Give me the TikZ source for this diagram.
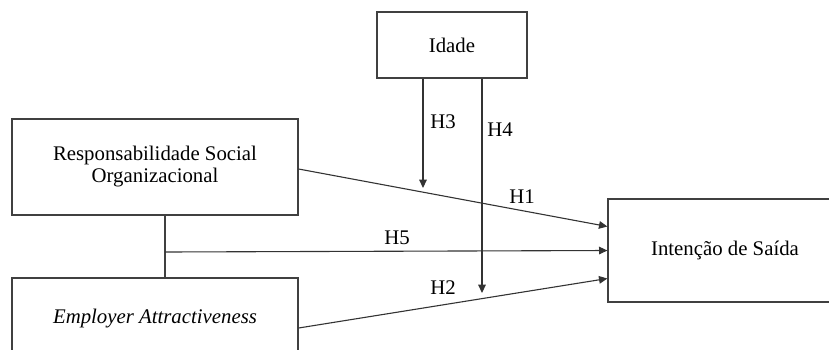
\documentclass[tikz,border=0pt]{standalone}
\usepackage{fontspec}
\setmainfont{Liberation Serif}
\usetikzlibrary{arrows.meta}
\tikzset{
  box/.style={draw=black!75,line width=0.6pt,inner sep=0pt,align=center},
  arr/.style={draw=black!80,line width=0.55pt,-{Triangle[length=4.2pt,width=3.8pt]}},
  lnk/.style={draw=black!75,line width=0.55pt},
  hlab/.style={inner sep=0pt}
}
\begin{document}
\begin{tikzpicture}[x=0.5pt,y=-0.5pt,font=\fontsize{10.4}{11}\selectfont]
\useasboundingbox (0,0) rectangle (829,349);
\clip (0,0) rectangle (829,349);
% variables
\node[box,minimum width=150*0.5pt,minimum height=66*0.5pt] (idade) at (452,45) {Idade};
\node[box,minimum width=286*0.5pt,minimum height=96*0.5pt] (rso) at (155,167) {Responsabilidade Social\\Organizacional};
\node[box,minimum width=286*0.5pt,minimum height=82*0.5pt] (ea) at (155,319) {\itshape Employer Attractiveness};
\node[box,minimum width=234*0.5pt,minimum height=103*0.5pt] (saida) at (725,250.5) {Intenção de Saída};
% joints and tips
\coordinate (j) at (165,252);
\coordinate (h3) at (423,188);
\coordinate (h4) at (482,293);
% paths
\draw[lnk] (j |- rso.south) -- (j |- ea.north);
\draw[arr] ([yshift=-1pt]rso.east) -- ([yshift=12pt]saida.west);
\draw[arr] (j) -- (saida.west);
\draw[arr] ([yshift=-4.5pt]ea.east) -- ([yshift=-14pt]saida.west);
\draw[arr] (h3 |- idade.south) -- (h3);
\draw[arr] (h4 |- idade.south) -- (h4);
% labels
\node[hlab] (l1) at (522,197) {H1};
\node[hlab] (l2) at (443,288) {H2};
\node[hlab] (l3) at (443,122) {H3};
\node[hlab] (l4) at (500,130) {H4};
\node[hlab] (l5) at (397,238) {H5};
\end{tikzpicture}
\end{document}
